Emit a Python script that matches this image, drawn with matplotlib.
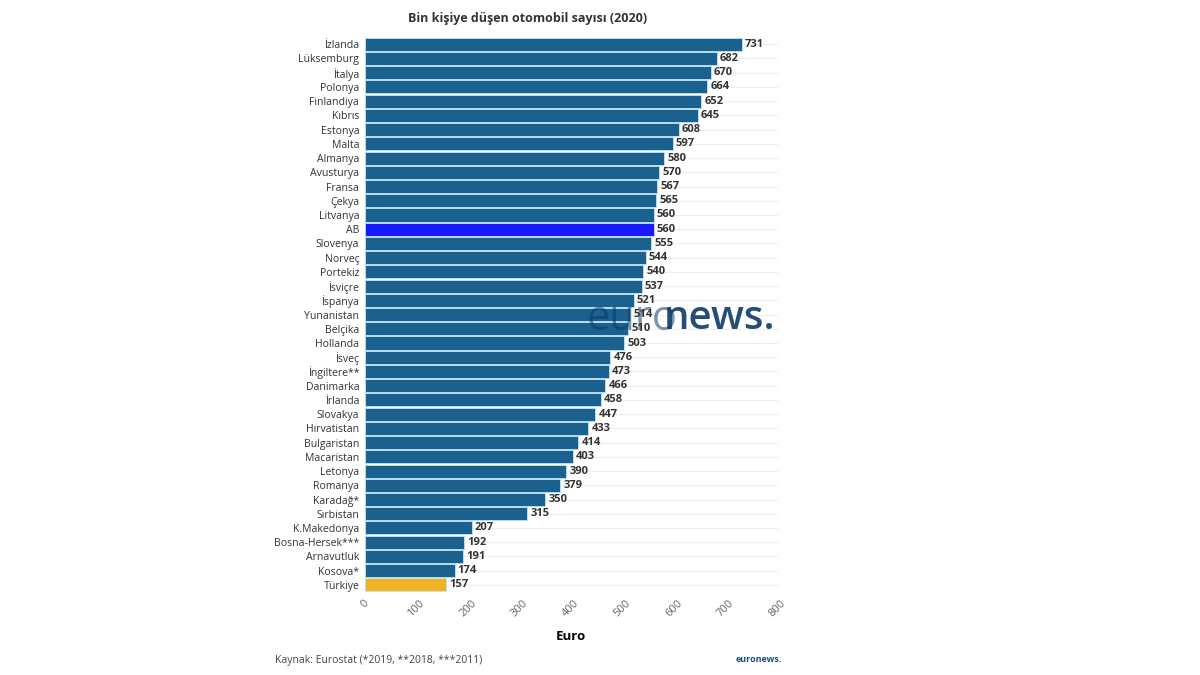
from matplotlib import pyplot as plt


countries = ['İzlanda', 'Lüksemburg', 'İtalya', 'Polonya', 'Finlandiya', 'Kıbrıs',
             'Estonya', 'Malta', 'Almanya', 'Avusturya', 'Fransa', 'Çekya',
             'Litvanya', 'AB', 'Slovenya', 'Norveç', 'Portekiz', 'İsviçre',
             'İspanya', 'Yunanistan', 'Belçika', 'Hollanda', 'İsveç', 'İngiltere**',
             'Danimarka', 'İrlanda', 'Slovakya', 'Hırvatistan', 'Bulgaristan',
             'Macaristan', 'Letonya', 'Romanya', 'Karadağ*', 'Sırbistan',
             'K.Makedonya', 'Bosna-Hersek***', 'Arnavutluk', 'Kosova*', 'Türkiye']
cars = [731, 682, 670, 664, 652, 645, 608, 597, 580, 570, 567, 565, 560, 560,
        555, 544, 540, 537, 521, 514, 510, 503, 476, 473, 466, 458, 447, 433,
        414, 403, 390, 379, 350, 315, 207, 192, 191, 174, 157]
x_ticks = [0, 100, 200, 300, 400, 500, 600, 700, 800]


def main():
    plt.rcParams['font.family'] = ['Open Sans', 'DejaVu Sans']

    fig = plt.figure(figsize=(12, 6.75), dpi=100)
    ax = fig.add_axes([0.304, 0.123, 0.344, 0.822])

    colors = []
    for c in countries:
        if c == 'AB':
            colors.append('#1a1aff')
        elif c == 'Türkiye':
            colors.append('#f0b323')
        else:
            colors.append('#1b6190')

    pos = list(range(len(countries)))
    ax.barh(pos, cars, height=0.92, color=colors, edgecolor='#bfe3f7',
            linewidth=0.6, zorder=2)
    for p, v in zip(pos, cars):
        ax.text(v + 6, p, str(v), va='center', ha='left', fontsize=8,
                fontweight='bold', color='#333333', zorder=4)

    ax.set_ylim(len(countries) - 0.5, -0.5)
    ax.set_xlim(0, 800)
    ax.set_yticks(pos)
    ax.set_yticklabels(countries, fontsize=7.6, color='#333333')
    ax.set_xticks(x_ticks)
    ax.set_xticklabels([str(t) for t in x_ticks], rotation=45, fontsize=8,
                       color='#666666', ha='center')
    ax.tick_params(axis='both', length=0, pad=4)
    ax.grid(axis='y', color='#eeeeee', linewidth=0.8, zorder=0)
    for s in ax.spines.values():
        s.set_visible(False)

    ax.set_xlabel('Euro', fontsize=9.5, fontweight='bold', labelpad=8)
    fig.text(0.44, 0.972, 'Bin kişiye düşen otomobil sayısı (2020)',
             ha='center', va='center', fontsize=9, fontweight='bold',
             color='#333333')
    fig.text(0.229, 0.021, 'Kaynak: Eurostat (*2019, **2018, ***2011)',
             ha='left', va='center', fontsize=7.5, color='#444444')
    fig.text(0.652, 0.023, 'euronews.', ha='right', va='center', fontsize=6.5,
             fontweight='bold', color='#1b4f7a')

    # watermark, under the value labels
    ax.text(0.489, 0.527, 'euro', ha='left', va='center', fontsize=30,
            color='#0d3a66', alpha=0.55, transform=fig.transFigure,
            zorder=3, clip_on=False)
    ax.text(0.553, 0.527, 'news.', ha='left', va='center', fontsize=29,
            fontweight='semibold', color='#0d3a66', alpha=0.9,
            transform=fig.transFigure, zorder=3, clip_on=False)

    fig.savefig('out.png', dpi=100)
    plt.close()


if __name__ == '__main__':
    main()
